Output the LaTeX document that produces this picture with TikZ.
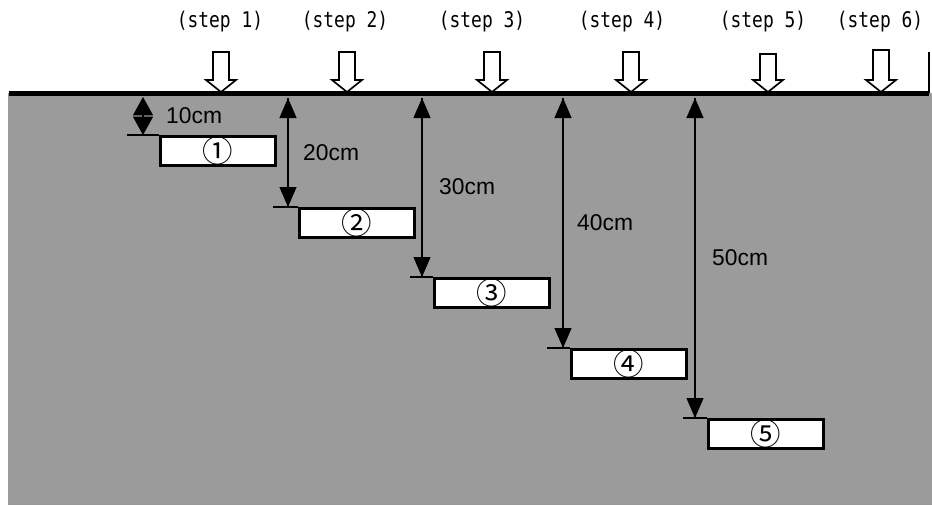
\documentclass[tikz,border=0pt]{standalone}
\usepackage{fontspec}
\setmainfont{Liberation Sans}
\newfontfamily\stepfont[FakeStretch=0.83]{DejaVu Sans Mono}
\newfontfamily\circfont{Noto Sans CJK JP}
\usetikzlibrary{arrows.meta}
\definecolor{soil}{RGB}{155,155,155}
\begin{document}
\begin{tikzpicture}[x=0.03cm,y=-0.03cm,
  steplabel/.style={font=\stepfont\fontsize{18.4}{20}\selectfont, inner sep=0pt},
  dimlabel/.style={font=\fontsize{19.5}{21}\selectfont, inner sep=0pt, anchor=west},
  layerbox/.style={draw=black, line width=0.08cm, fill=white, minimum width=3.45cm, minimum height=0.87cm, inner sep=0pt, anchor=north west, font=\circfont\fontsize{26}{26}\selectfont},
  ledge/.style={line width=0.05cm},
  dimarrow/.style={line width=0.035cm, -{Triangle[width=0.51cm,length=0.6cm]}},
  hollow/.style={draw=black, line width=0.05cm, fill=white, line join=miter}
]
\useasboundingbox (0,0) rectangle (932,505);
% ground
\fill[soil] (8,93) rectangle (932,505);
\draw[line width=0.15cm] (9,93) -- (929,93);
\draw[line width=0.06cm] (929,52) -- (929,93);
% step labels and hollow arrows
\foreach \i/\lx/\ax/\top in {1/220/221/52, 2/345/347/52, 3/482/492/52, 4/622/631/52, 5/763/768/54, 6/880/881/50}{
  \node[steplabel] (s\i) at (\lx,22) {(step \i)};
  \draw[hollow] (\ax-8,\top) -- (\ax+8,\top) -- (\ax+8,80) -- (\ax+15,80) -- (\ax,92) -- (\ax-15,80) -- (\ax-8,80) -- cycle;
}
% boxes
\node[layerbox] (b1) at (159,135) {①};
\node[layerbox] (b2) at (298,207) {②};
\node[layerbox] (b3) at (433,277) {③};
\node[layerbox] (b4) at (570,348) {④};
\node[layerbox] (b5) at (707,418) {⑤};
% ledges
\coordinate (l1) at (127,135);
\coordinate (l2) at (273,207);
\coordinate (l3) at (410,277);
\coordinate (l4) at (547,348);
\coordinate (l5) at (683,418);
\foreach \i in {1,...,5}{\draw[ledge] (l\i) -- (b\i.north west);}
% dimension arrows
\coordinate (t1) at (143,97); \coordinate (e1) at (143,135);
\coordinate (t2) at (288,98); \coordinate (e2) at (288,207);
\coordinate (t3) at (422,98); \coordinate (e3) at (422,277);
\coordinate (t4) at (563,98); \coordinate (e4) at (563,348);
\coordinate (t5) at (695,98); \coordinate (e5) at (695,418);
\draw[line width=0.035cm, {Triangle[width=0.6cm,length=0.55cm]}-{Triangle[width=0.6cm,length=0.55cm]}] (t1) -- (e1);
\foreach \i in {2,...,5}{\draw[dimarrow] (e\i) -- (t\i); \draw[dimarrow] (t\i) -- (e\i);}
% labels
\node[dimlabel] (d1) at (166,116) {10cm};
\node[dimlabel] (d2) at (303,153) {20cm};
\node[dimlabel] (d3) at (439,187) {30cm};
\node[dimlabel] (d4) at (577,223) {40cm};
\node[dimlabel] (d5) at (712,258) {50cm};
\end{tikzpicture}
\end{document}
